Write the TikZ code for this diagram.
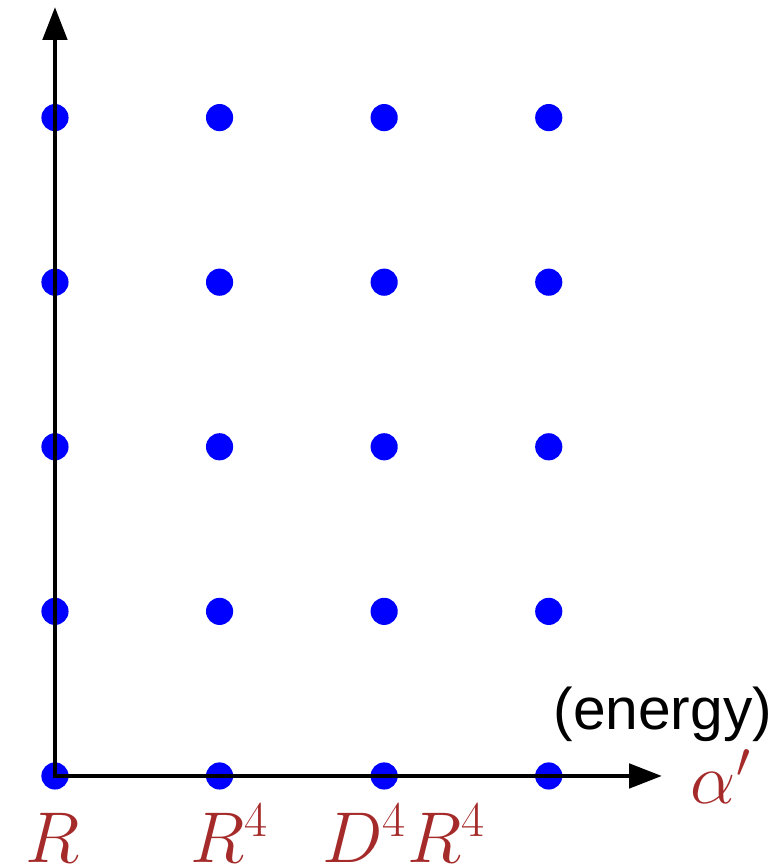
\documentclass[tikz,border=0pt]{standalone}
\usepackage{fontspec}
\newfontfamily\energyfont{Liberation Sans}
\usepackage{tikz}
\usetikzlibrary{arrows.meta, positioning}
\definecolor{dotblue}{HTML}{0000FF}
\definecolor{lblred}{HTML}{A52A2A}
\tikzset{
  gdot/.style={circle, fill=dotblue, minimum size=0.33cm, inner sep=0pt},
  axis/.style={line width=1.7pt, {Triangle[length=11.4pt, width=8.3pt]}-{Triangle[length=11.4pt, width=8.3pt]}},
  lbl/.style={text=lblred, font=\fontsize{23.5}{28}\selectfont, inner sep=0pt, anchor=base west},
}

\begin{document}
\begin{tikzpicture}
  \useasboundingbox (-0.668,-1.094) rectangle (8.773,9.429);

  %% grid of dots
  \foreach \i in {0,...,3}
    \foreach \j in {0,...,4}
      \node[gdot] (d-\i-\j) at (2*\i,2*\j) {};

  %% axes
  \coordinate (O) at (0,0);
  \coordinate (ytip) at (0,9.344);
  \coordinate (xtip) at (7.376,0);
  \draw[axis] (ytip) -- (O) -- (xtip);

  %% labels
  \node[lbl] (lR) at (-0.37,-1.055) {$R$};
  \node[lbl] (lR4) at (1.64,-1.055) {$R^4$};
  \node[lbl] (lD4R4) at (3.24,-1.055) {$D^4R^4$};
  \node[lbl] (lalpha) at (7.72,-0.33) {$\alpha'$};
  \node[anchor=base west, inner sep=0pt, font=\energyfont\fontsize{20.3}{24}\selectfont]
    (energy) at (6.05,0.56) {(energy)};

\end{tikzpicture}
\end{document}
